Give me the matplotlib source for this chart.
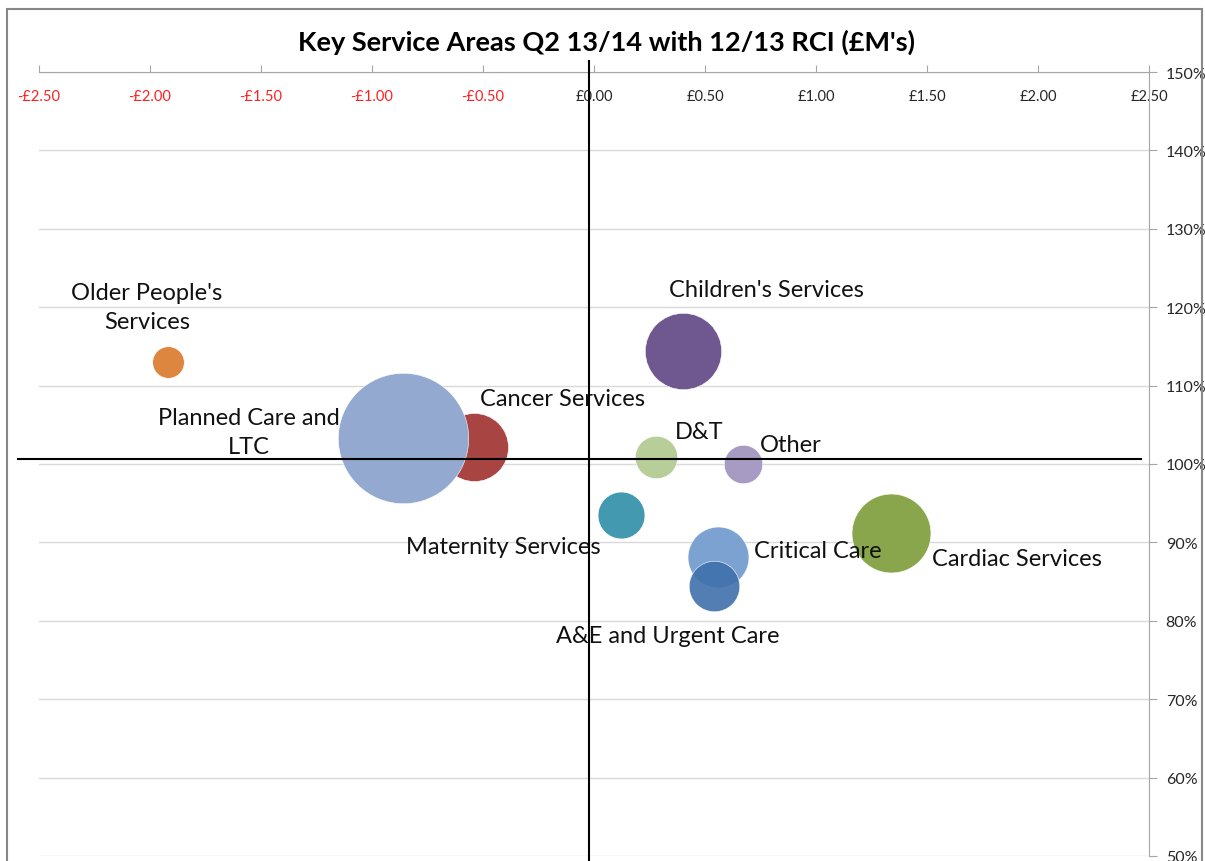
import matplotlib
matplotlib.use('Agg')
import matplotlib.pyplot as plt
import numpy as np
from matplotlib.patches import Rectangle

plt.rcParams['font.family'] = ['Lato', 'DejaVu Sans']

# data (x = variance in £M, y = RCI %)
services = ["Older People's\nServices", "Cancer Services", "Planned Care and\nLTC",
            "Children's Services", "D&T", "Other", "Maternity Services",
            "Critical Care", "A&E and Urgent Care", "Cardiac Services"]
variance = [-1.92, -0.54, -0.86, 0.40, 0.28, 0.67, 0.12, 0.56, 0.54, 1.34]
rci = [113.0, 102.2, 103.3, 114.4, 100.9, 100.0, 93.5, 88.2, 84.4, 91.2]
bubble_size = [2.5, 11.6, 42.6, 14.6, 4.5, 3.7, 5.5, 9.3, 6.4, 15.6]

colors = ['#DD8640', '#A84442', '#93A9D0', '#6F578F', '#B8CE98', '#A89BC3',
          '#4399B0', '#7BA2D1', (0.25, 0.44, 0.67, 0.9), '#8AA64C']
# label offsets from bubble centre, in pixels
offsets = [(-21, 55), (88, 48), (-154, 6), (84, 62), (43, 25), (48, 19),
           (-117, -32), (99, 6), (-46, -49), (125, -26)]

xticks = np.arange(-2.5, 2.51, 0.5)
yticks = np.arange(50, 151, 10)

fig = plt.figure(figsize=(12.05, 8.62), dpi=100)
ax = fig.add_axes([39 / 1205, 1 - 857 / 862, (1149 - 39) / 1205, (857 - 73) / 862])

for x, y, b, c in zip(variance, rci, bubble_size, colors):
    ax.scatter(x, y, s=b * 207, color=c, edgecolor='white', linewidth=0.4, zorder=3)

for name, x, y, off in zip(services, variance, rci, offsets):
    ax.annotate(name, (x, y), xytext=off, textcoords='offset pixels',
                ha='center', va='center', fontsize=17, linespacing=1.45,
                color='#111111', zorder=4)

ax.set_xlim(-2.5, 2.5)
ax.set_ylim(50, 150)
ax.set_xticks(xticks)
ax.set_xticklabels([('-£%.2f' % abs(v)) if v < -1e-9 else ('£%.2f' % abs(v)) for v in xticks])
ax.set_yticks(yticks)
ax.set_yticklabels(['%d%%' % v for v in yticks])

ax.xaxis.set_ticks_position('top')
ax.yaxis.tick_right()
ax.tick_params(axis='x', direction='out', length=5, color='#A6A6A6', pad=-27, labelsize=10.5)
ax.tick_params(axis='y', direction='out', length=6, color='#A6A6A6', pad=6, labelsize=11.5,
               labelcolor='#262626')
for tick, v in zip(ax.xaxis.get_major_ticks(), xticks):
    tick.label2.set_color('#FF2020' if v < -1e-9 else '#262626')
ax.yaxis.grid(True, color='#D9D9D9', linewidth=1)
ax.set_axisbelow(True)
for s in ['left', 'bottom']:
    ax.spines[s].set_visible(False)
for s in ['top', 'right']:
    ax.spines[s].set_color('#A6A6A6')

# hand drawn cross lines
ax.plot([-2.595, 2.464], [100.6, 100.6], color='black', lw=1.5, clip_on=False, zorder=5)
ax.plot([-0.023, -0.023], [151.4, 45], color='black', lw=1.5, clip_on=False, zorder=5)

fig.text(606 / 1205, 1 - 42 / 862, "Key Service Areas Q2 13/14 with 12/13 RCI (£M's)",
         ha='center', va='center', fontsize=19.5, fontweight='bold')

fig.add_artist(Rectangle((0.0058, -0.1), 0.992, 1.0884, transform=fig.transFigure,
                         fill=False, edgecolor='#878787', lw=1.5))

fig.savefig('out.png', dpi=100)
